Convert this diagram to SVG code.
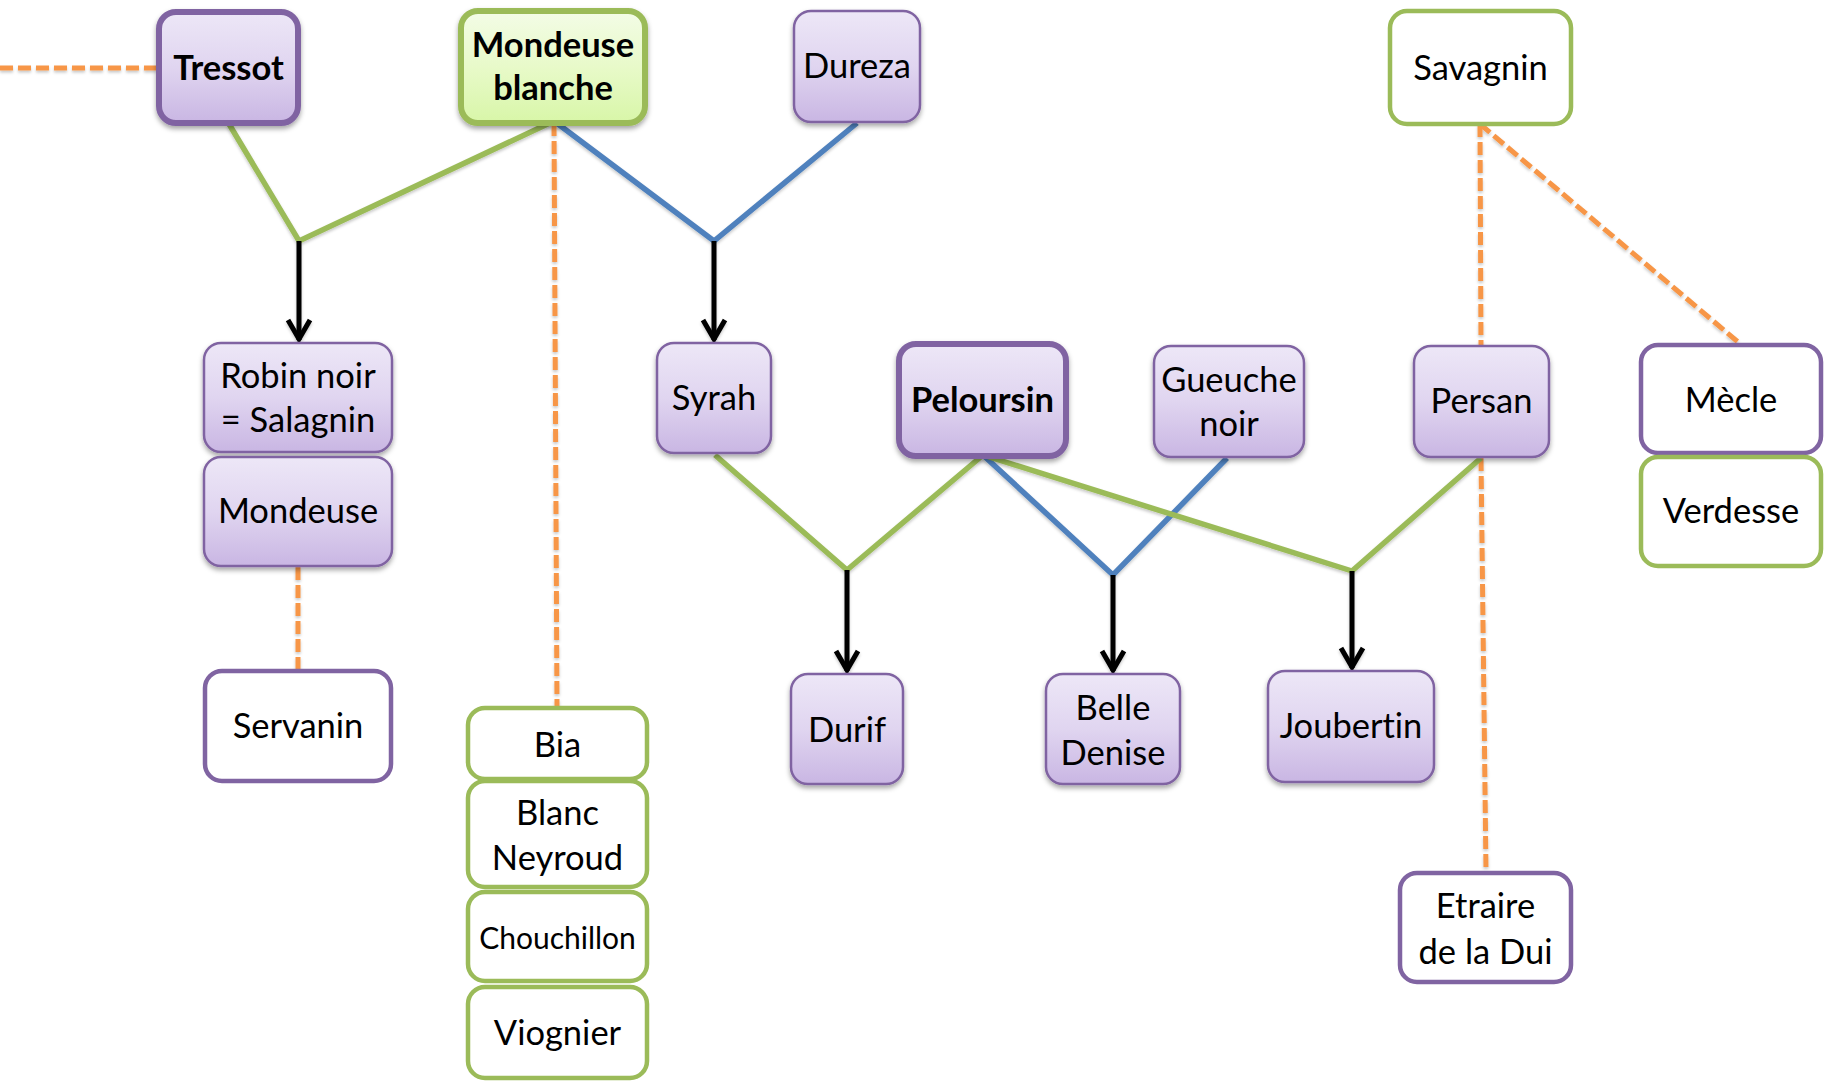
<svg xmlns="http://www.w3.org/2000/svg" width="1824" height="1081" viewBox="0 0 1824 1081">
<defs>
<linearGradient id="gPurple" x1="0" y1="0" x2="0" y2="1">
<stop offset="0" stop-color="#EDE7F7"/>
<stop offset="0.5" stop-color="#E0D5F0"/>
<stop offset="1" stop-color="#C9B6E3"/>
</linearGradient>
<linearGradient id="gGreen" x1="0" y1="0" x2="0" y2="1">
<stop offset="0" stop-color="#F3FCE6"/>
<stop offset="0.5" stop-color="#E8FAC9"/>
<stop offset="1" stop-color="#D8F6A8"/>
</linearGradient>
<filter id="shadow" x="-20%" y="-20%" width="140%" height="150%">
<feDropShadow dx="0" dy="3" stdDeviation="2.5" flood-color="#000" flood-opacity="0.35"/>
</filter>
<filter id="lshadow" x="-10%" y="-10%" width="120%" height="120%">
<feDropShadow dx="0" dy="2" stdDeviation="1.5" flood-color="#000" flood-opacity="0.22"/>
</filter>
<marker id="arrow" markerUnits="userSpaceOnUse" viewBox="-26 -15 30 30" markerWidth="30" markerHeight="30" refX="0" refY="0" orient="auto">
<path d="M-20,-11 L-1,0 L-20,11" fill="none" stroke="#000" stroke-width="5" stroke-linejoin="miter"/>
</marker>
</defs>
<style>
text{font-family:Lato,"Open Sans","Liberation Sans",sans-serif;font-size:34.5px;fill:#000;text-anchor:middle;font-variant-ligatures:none;font-feature-settings:"liga" 0,"dlig" 0}
.b{font-weight:bold}
.sm{font-size:30px}
.pf{fill:url(#gPurple);stroke:#8064A2;stroke-width:2.5;filter:url(#shadow)}
.pft{fill:url(#gPurple);stroke:#8064A2;stroke-width:6;filter:url(#shadow)}
.gft{fill:url(#gGreen);stroke:#9BBB59;stroke-width:6;filter:url(#shadow)}
.pw{fill:#fff;stroke:#8064A2;stroke-width:4.5}
.gw{fill:#fff;stroke:#9BBB59;stroke-width:4.5}
.green{fill:none;stroke:#9BBB59;stroke-width:5.5}
.blue{fill:none;stroke:#4F81BD;stroke-width:5.5}
.orange{fill:none;stroke:#F79646;stroke-width:5;stroke-dasharray:13 5}
.arr{fill:none;stroke:#000;stroke-width:5;marker-end:url(#arrow)}
</style>

<g id="connectors" filter="url(#lshadow)">
<line class="orange" x1="0" y1="68" x2="157" y2="68"/>
<line class="orange" x1="554" y1="123" x2="557" y2="706"/>
<line class="orange" x1="298" y1="567" x2="298" y2="670"/>
<line class="orange" x1="1480" y1="124" x2="1481" y2="345"/>
<line class="orange" x1="1480" y1="124" x2="1738" y2="342"/>
<line class="orange" x1="1481" y1="458" x2="1486" y2="871"/>
<polyline class="green" points="229,124 299,241 554,121"/>
<polyline class="blue" points="554,121 714,241 857,123"/>
<polyline class="green" points="715,455 847,570 983,455"/>
<polyline class="blue" points="983,455 1113,575 1227,458"/>
<polyline class="green" points="983,455 1352,571 1481,458"/>
<line class="arr" x1="299" y1="241" x2="299" y2="340"/>
<line class="arr" x1="714" y1="241" x2="714" y2="340"/>
<line class="arr" x1="847" y1="570" x2="847" y2="671"/>
<line class="arr" x1="1113" y1="575" x2="1113" y2="671"/>
<line class="arr" x1="1352" y1="571" x2="1352" y2="668"/>
</g>

<g id="tressot"><rect class="pft" x="159" y="12" width="139" height="111" rx="17"/><text class="b" x="228.5" y="80">Tressot</text></g>
<g id="mondeuse-blanche"><rect class="gft" x="461" y="11" width="184" height="112" rx="17"/><text class="b" x="553" y="57">Mondeuse</text><text class="b" x="553" y="100">blanche</text></g>
<g id="dureza"><rect class="pf" x="794" y="11" width="126" height="111" rx="17"/><text x="857" y="78">Dureza</text></g>
<g id="savagnin"><rect class="gw" x="1390" y="11" width="181" height="113" rx="17"/><text x="1480.5" y="80">Savagnin</text></g>

<g id="robin-noir"><rect class="pf" x="204" y="343" width="188" height="109" rx="17"/><text x="298" y="388">Robin noir</text><text x="298" y="432">= Salagnin</text></g>
<g id="mondeuse"><rect class="pf" x="204" y="457" width="188" height="109" rx="17"/><text x="298" y="523">Mondeuse</text></g>
<g id="servanin"><rect class="pw" x="205" y="671" width="186" height="110" rx="17"/><text x="298" y="738">Servanin</text></g>

<g id="syrah"><rect class="pf" x="657" y="343" width="114" height="110" rx="17"/><text x="714" y="410">Syrah</text></g>
<g id="peloursin"><rect class="pft" x="899" y="344" width="167" height="112" rx="17"/><text class="b" x="982.5" y="412">Peloursin</text></g>
<g id="gueuche-noir"><rect class="pf" x="1154" y="346" width="150" height="111" rx="17"/><text x="1229" y="392">Gueuche</text><text x="1229" y="436">noir</text></g>
<g id="persan"><rect class="pf" x="1414" y="346" width="135" height="111" rx="17"/><text x="1481.5" y="413">Persan</text></g>
<g id="mecle"><rect class="pw" x="1641" y="345" width="180" height="108" rx="17"/><text x="1731" y="412">Mècle</text></g>
<g id="verdesse"><rect class="gw" x="1641" y="457" width="180" height="109" rx="17"/><text x="1731" y="523">Verdesse</text></g>

<g id="durif"><rect class="pf" x="791" y="674" width="112" height="110" rx="17"/><text x="847" y="742">Durif</text></g>
<g id="belle-denise"><rect class="pf" x="1046" y="674" width="134" height="110" rx="17"/><text x="1113" y="720">Belle</text><text x="1113" y="765">Denise</text></g>
<g id="joubertin"><rect class="pf" x="1268" y="671" width="166" height="111" rx="17"/><text x="1351" y="738">Joubertin</text></g>
<g id="etraire"><rect class="pw" x="1400" y="873" width="171" height="109" rx="17"/><text x="1485.5" y="918">Etraire</text><text x="1485.5" y="964">de la Dui</text></g>

<g id="bia"><rect class="gw" x="468" y="708" width="179" height="71" rx="17"/><text x="557.5" y="757">Bia</text></g>
<g id="blanc-neyroud"><rect class="gw" x="468" y="781" width="179" height="106" rx="17"/><text x="557.5" y="825">Blanc</text><text x="557.5" y="870">Neyroud</text></g>
<g id="chouchillon"><rect class="gw" x="468" y="892" width="179" height="89" rx="17"/><text class="sm" x="557.5" y="949">Chouchillon</text></g>
<g id="viognier"><rect class="gw" x="468" y="987" width="179" height="91" rx="17"/><text x="557.5" y="1045">Viognier</text></g>
</svg>
